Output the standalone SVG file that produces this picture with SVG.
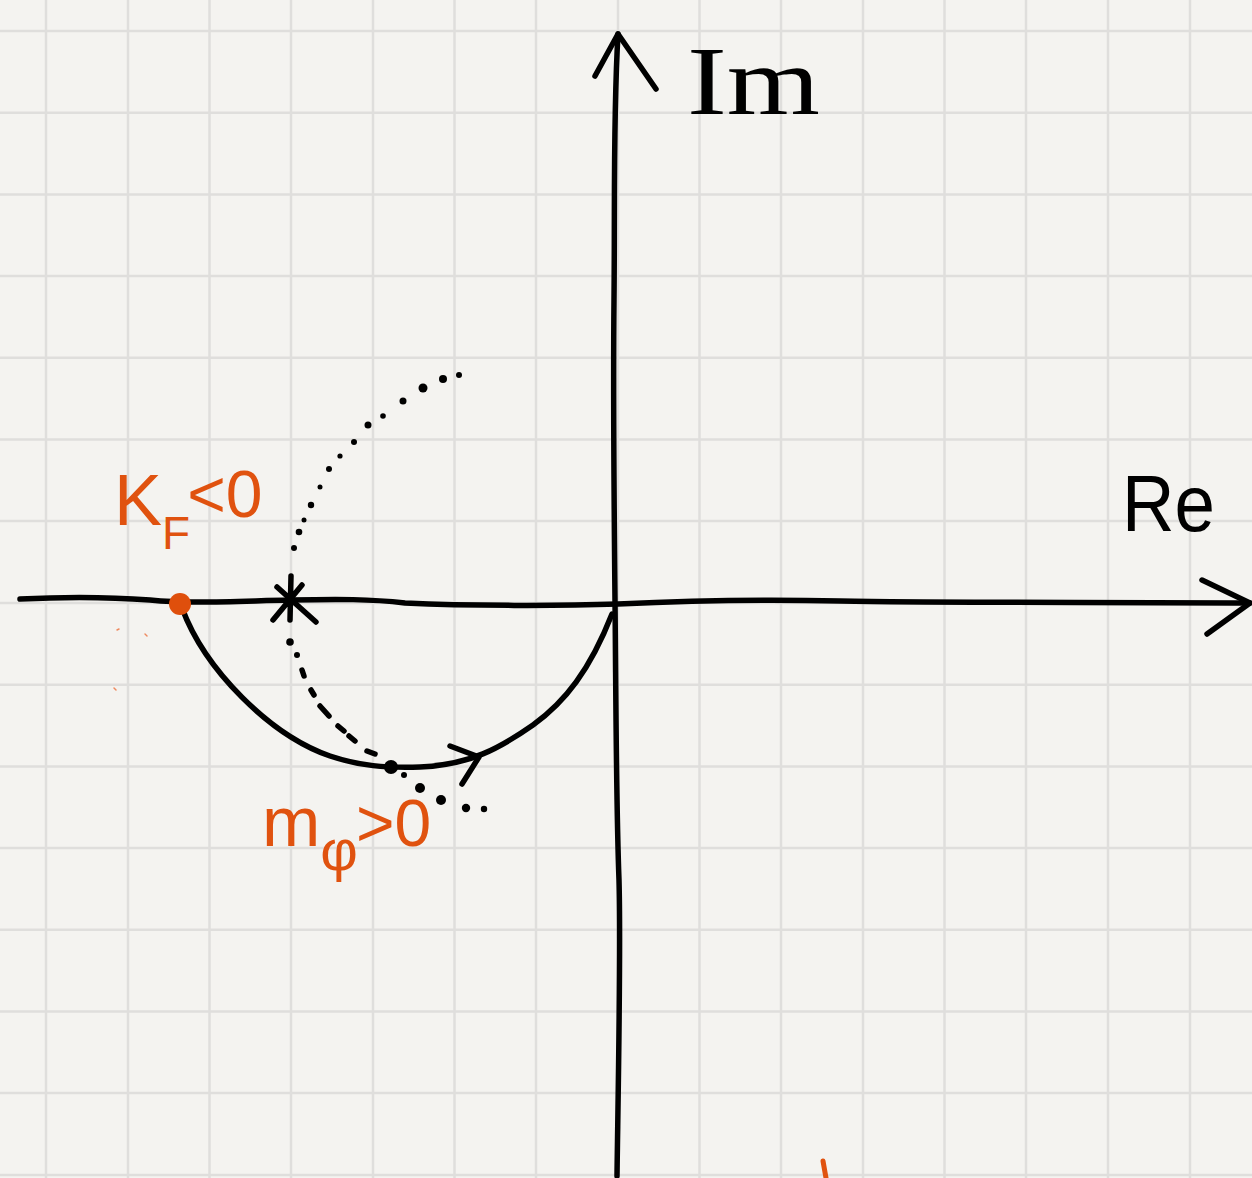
<svg xmlns="http://www.w3.org/2000/svg" width="1252" height="1178" viewBox="0 0 1252 1178">
<style>
.grid line{stroke:#dfdedc;stroke-width:2.5}
.ink{fill:none;stroke:#000;stroke-width:5.5;stroke-linecap:round;stroke-linejoin:round}
.or{fill:#e0520f;font-family:"Liberation Sans",Arial,sans-serif}
.bk{fill:#000;font-family:"Liberation Serif","Times New Roman",serif}
.dot{fill:#000}
</style>
<rect x="0" y="0" width="1252" height="1178" fill="#f4f3f0"/>
<g id="grid" class="grid">
<line x1="46" y1="0" x2="46" y2="1178"/>
<line x1="128" y1="0" x2="128" y2="1178"/>
<line x1="209.5" y1="0" x2="209.5" y2="1178"/>
<line x1="291" y1="0" x2="291" y2="1178"/>
<line x1="373" y1="0" x2="373" y2="1178"/>
<line x1="454.5" y1="0" x2="454.5" y2="1178"/>
<line x1="536" y1="0" x2="536" y2="1178"/>
<line x1="618" y1="0" x2="618" y2="1178"/>
<line x1="699.5" y1="0" x2="699.5" y2="1178"/>
<line x1="781" y1="0" x2="781" y2="1178"/>
<line x1="863" y1="0" x2="863" y2="1178"/>
<line x1="944.5" y1="0" x2="944.5" y2="1178"/>
<line x1="1026" y1="0" x2="1026" y2="1178"/>
<line x1="1108" y1="0" x2="1108" y2="1178"/>
<line x1="1190" y1="0" x2="1190" y2="1178"/>
<line x1="0" y1="31" x2="1252" y2="31"/>
<line x1="0" y1="112.7" x2="1252" y2="112.7"/>
<line x1="0" y1="194.4" x2="1252" y2="194.4"/>
<line x1="0" y1="276" x2="1252" y2="276"/>
<line x1="0" y1="357.8" x2="1252" y2="357.8"/>
<line x1="0" y1="439.5" x2="1252" y2="439.5"/>
<line x1="0" y1="521" x2="1252" y2="521"/>
<line x1="0" y1="603" x2="1252" y2="603"/>
<line x1="0" y1="684.7" x2="1252" y2="684.7"/>
<line x1="0" y1="766.4" x2="1252" y2="766.4"/>
<line x1="0" y1="848" x2="1252" y2="848"/>
<line x1="0" y1="929.7" x2="1252" y2="929.7"/>
<line x1="0" y1="1011.4" x2="1252" y2="1011.4"/>
<line x1="0" y1="1093" x2="1252" y2="1093"/>
<line x1="0" y1="1175" x2="1252" y2="1175"/>
</g>
<g id="connectors">
<path id="re-axis" class="ink" d="M20,599 C60,597 110,597 150,600 C190,604 240,601 290,600 C340,599 370,599 405,603 C470,606 560,606 618,604 C700,600 760,599 840,601 C950,603 1100,602 1250,603"/>
<path class="ink" d="M1202,580 L1250,603 L1207,634"/>
<path id="im-axis" class="ink" d="M617,1176 C618,1100 621,950 619,880 C616,800 616,700 615,600 C614,500 613,400 614,300 C615,200 613,120 618,34"/>
<path class="ink" d="M595,76 L618,34 L656,89"/>
<path id="locus" class="ink" d="M182,608 C205,670 270,735 330,756 C360,766 385,768 420,767 C470,765 500,748 533,725 C565,702 590,670 612,614"/>
<path class="ink" d="M450,746 L479,757 L462,784"/>
</g>
<g id="dotted-path">
<circle class="dot" cx="459" cy="375" r="3"/>
<circle class="dot" cx="443" cy="379" r="4"/>
<circle class="dot" cx="423" cy="388" r="4.5"/>
<circle class="dot" cx="403" cy="401" r="3.5"/>
<circle class="dot" cx="383" cy="416" r="2.8"/>
<circle class="dot" cx="368" cy="425" r="3.5"/>
<circle class="dot" cx="354" cy="442" r="3"/>
<circle class="dot" cx="340" cy="456" r="2.6"/>
<circle class="dot" cx="329" cy="469" r="3"/>
<circle class="dot" cx="320" cy="487" r="2.5"/>
<circle class="dot" cx="311" cy="505" r="3.2"/>
<circle class="dot" cx="304" cy="520" r="2.5"/>
<circle class="dot" cx="299" cy="532" r="3.3"/>
<circle class="dot" cx="294" cy="548" r="3"/>
<circle class="dot" cx="290" cy="642" r="3.8"/>
<circle class="dot" cx="297" cy="655" r="3"/>
<path class="ink" d="M302,670 L304,676 M311,690 L314,695 M320,706 L329,716 M338,726 L344,731 M349,736 L355,741 M367,751 L375,754" stroke-width="6"/>
<circle class="dot" cx="404" cy="775" r="3"/>
<circle class="dot" cx="420" cy="788" r="5"/>
<circle class="dot" cx="441" cy="800" r="5"/>
<circle class="dot" cx="466" cy="808" r="4.2"/>
<circle class="dot" cx="484" cy="809" r="3.2"/>
</g>
<g id="pole">
<path class="ink" d="M291,576 L290,620 M277,587 L316,622 M302,585 L273,620"/>
</g>
<g id="kf-point">
<circle cx="180" cy="604" r="11" fill="#df4f0c"/>
</g>
<g id="mphi-point">
<circle cx="391" cy="767" r="7" fill="#000"/>
</g>
<g id="specks" stroke="#ee8a60" stroke-width="1.5" stroke-linecap="round">
<line x1="117" y1="630" x2="119" y2="629"/>
<line x1="145" y1="634" x2="147" y2="636"/>
<line x1="114" y1="688" x2="116" y2="690"/>
</g>
<g id="bottom-mark">
<path d="M823,1161 L826,1178" stroke="#e0520f" stroke-width="5" stroke-linecap="round" fill="none"/>
</g>
<g id="label-im">
<text class="bk" x="687" y="114" font-size="98" textLength="133" lengthAdjust="spacingAndGlyphs">Im</text>
</g>
<g id="label-re">
<text x="1122" y="531" font-size="80" font-family="Liberation Sans, Arial, sans-serif" fill="#000" textLength="93" lengthAdjust="spacingAndGlyphs">Re</text>
</g>
<g id="label-kf">
<text class="or" x="114" y="525" font-size="72">K<tspan font-size="46" dy="24">F</tspan><tspan font-size="66" dx="-3" dy="-32">&lt;0</tspan></text>
</g>
<g id="label-mphi">
<text class="or" x="262" y="846" font-size="70">m<tspan font-size="58" dy="24">φ</tspan><tspan font-size="66" dx="-2" dy="-24">&gt;0</tspan></text>
</g>
</svg>
